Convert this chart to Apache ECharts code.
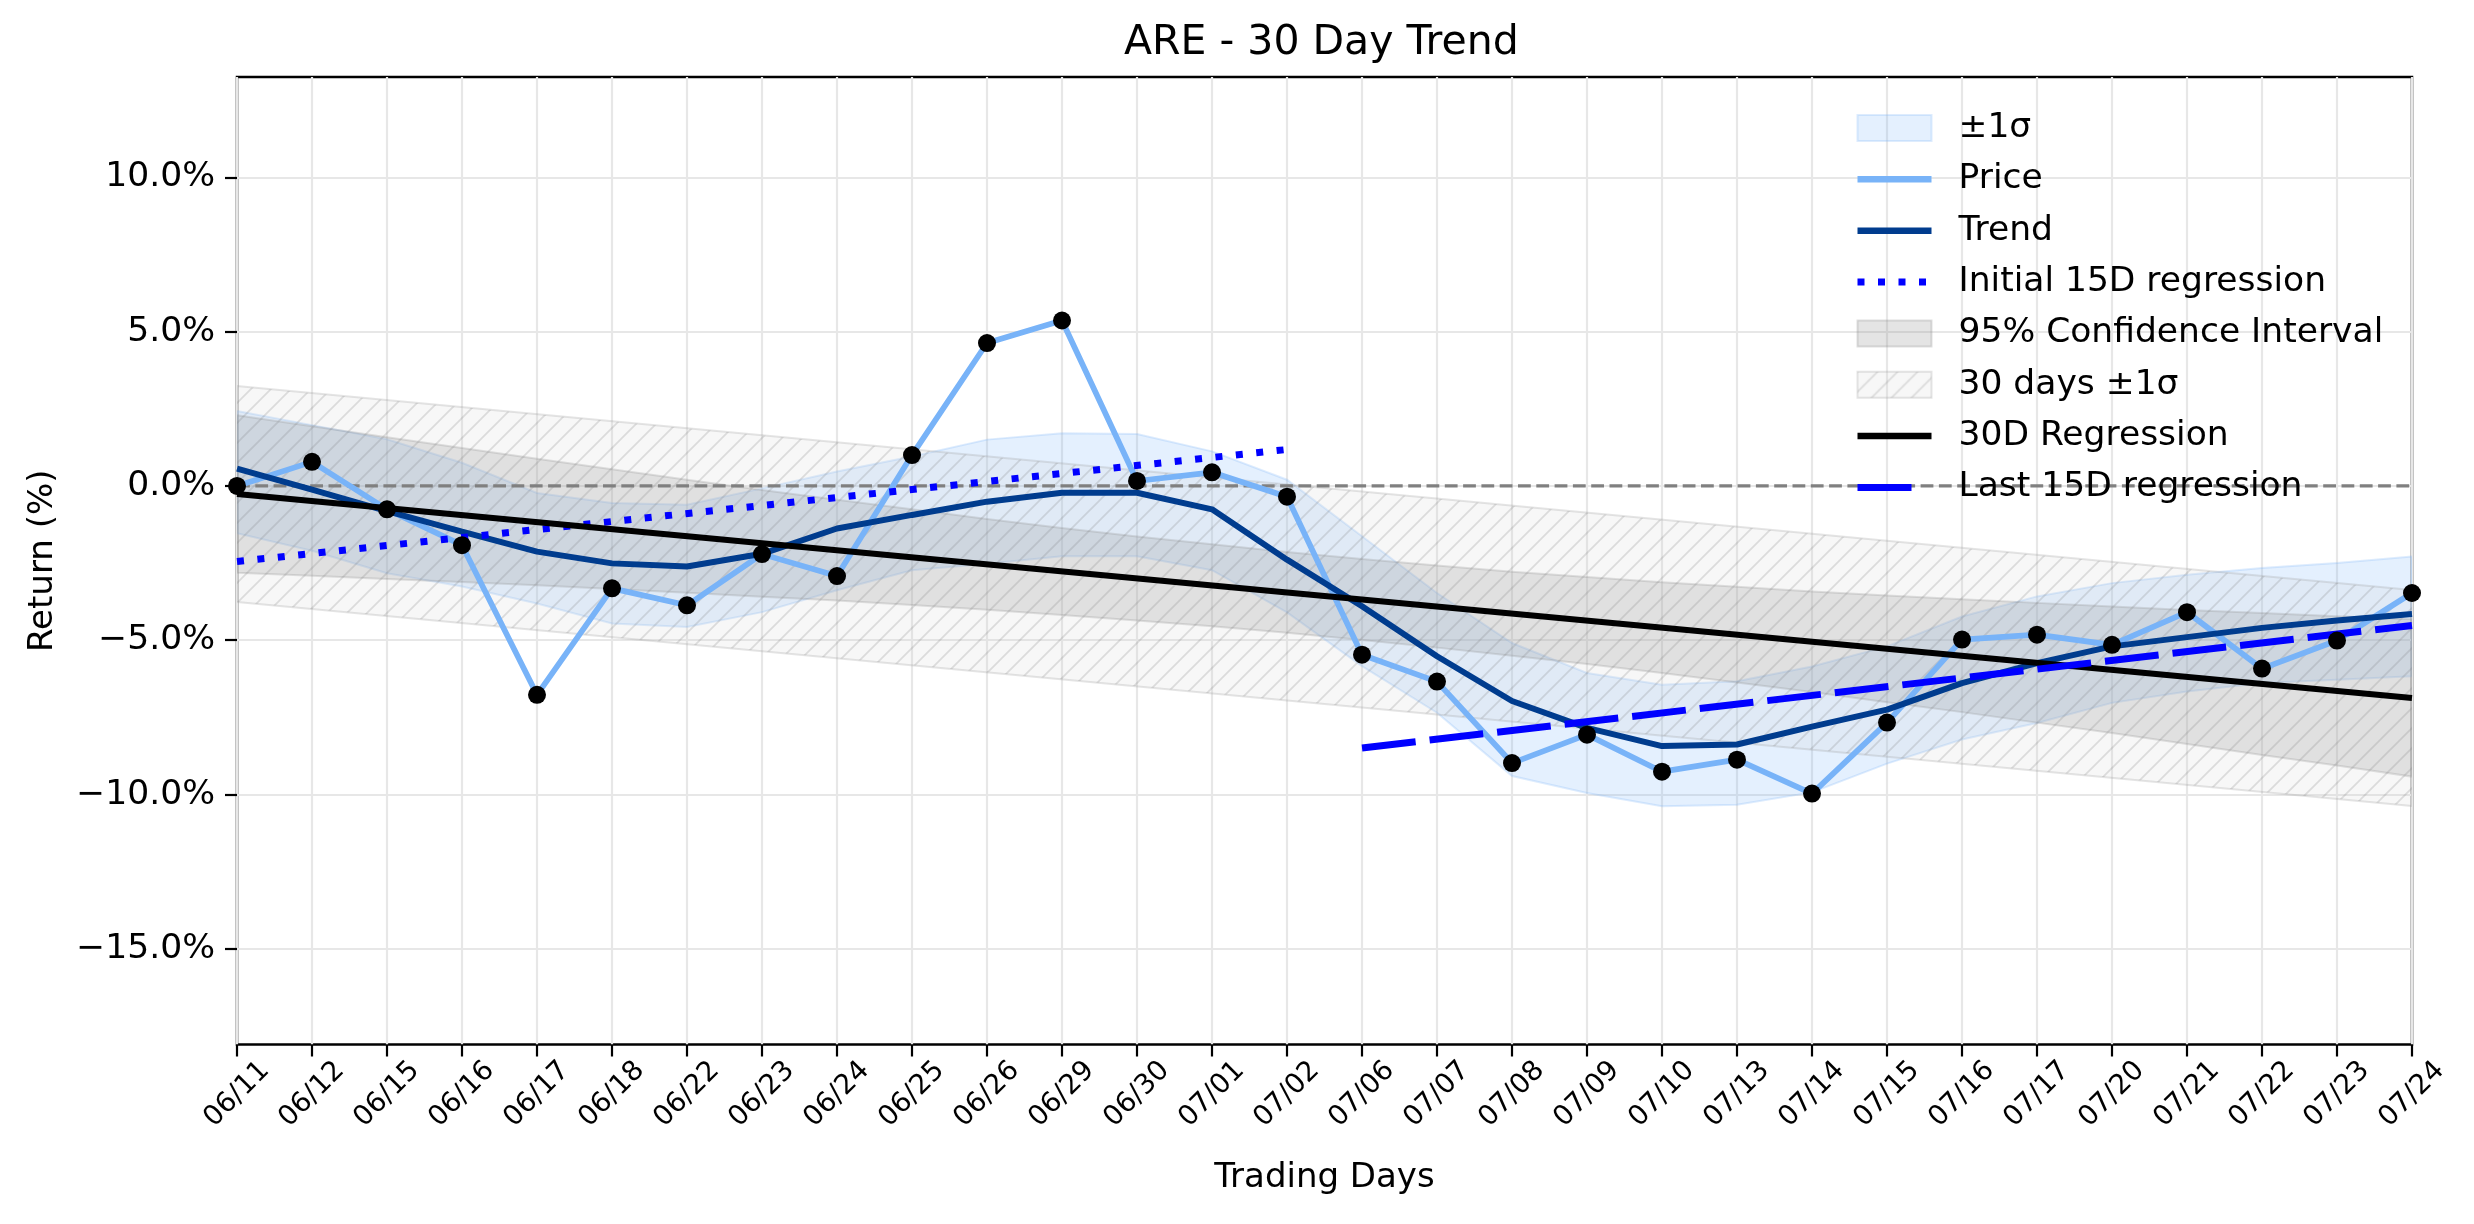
<!DOCTYPE html>
<html>
<head>
<meta charset="utf-8">
<script src="https://cdn.jsdelivr.net/npm/echarts@6/dist/echarts.min.js"></script>
<style>
html,body{margin:0;padding:0;background:#fff;}
#chart{width:2474px;height:1224px;}
</style>
</head>
<body>
<div id="chart"></div>
<script>
// ---------------- data ----------------
const dates = ['06/11','06/12','06/15','06/16','06/17','06/18','06/22','06/23','06/24','06/25',
  '06/26','06/29','06/30','07/01','07/02','07/06','07/07','07/08','07/09','07/10',
  '07/13','07/14','07/15','07/16','07/17','07/20','07/21','07/22','07/23','07/24'];

const price = [0.00, 0.78, -0.76, -1.92, -6.77, -3.32, -3.87, -2.21, -2.92, 1.00,
  4.63, 5.36, 0.16, 0.44, -0.35, -5.47, -6.34, -8.98, -8.06, -9.26,
  -8.87, -9.97, -7.67, -4.98, -4.82, -5.15, -4.09, -5.92, -5.01, -3.47];

const trend = [0.56, -0.12, -0.82, -1.48, -2.13, -2.51, -2.61, -2.20, -1.38, -0.94,
  -0.51, -0.22, -0.22, -0.76, -2.39, -3.90, -5.52, -6.97, -7.84, -8.43,
  -8.38, -7.80, -7.25, -6.39, -5.74, -5.20, -4.90, -4.60, -4.36, -4.15];

const sigmaUpper = [2.43, 1.97, 1.51, 0.75, -0.23, -0.55, -0.61, -0.08, 0.47, 0.95,
  1.50, 1.71, 1.68, 1.12, 0.20, -1.63, -3.47, -5.09, -6.06, -6.44,
  -6.33, -5.85, -5.20, -4.23, -3.58, -3.15, -2.88, -2.66, -2.50, -2.29];
const sigmaLower = [-1.53, -2.10, -2.83, -3.26, -3.81, -4.46, -4.57, -4.09, -3.38, -2.73,
  -2.52, -2.28, -2.28, -2.73, -4.10, -5.84, -7.35, -9.40, -9.95, -10.38,
  -10.33, -9.93, -9.00, -8.22, -7.68, -7.03, -6.66, -6.39, -6.28, -6.17];

const ciUpper = [2.29, 1.93, 1.58, 1.23, 0.88, 0.54, 0.20, -0.13, -0.45, -0.76,
  -1.07, -1.36, -1.64, -1.89, -2.14, -2.37, -2.58, -2.78, -2.95, -3.12,
  -3.27, -3.42, -3.55, -3.67, -3.79, -3.91, -4.02, -4.12, -4.22, -4.32];
const ciLower = [-2.81, -2.91, -3.02, -3.11, -3.22, -3.34, -3.46, -3.59, -3.71, -3.86,
  -4.01, -4.18, -4.36, -4.55, -4.76, -4.99, -5.24, -5.50, -5.77, -6.06,
  -6.37, -6.68, -7.01, -7.33, -7.67, -8.01, -8.36, -8.72, -9.06, -9.42];

const band30X = [0, 29];
const band30Upper = [3.24, -3.37];
const band30Lower = [-3.76, -10.37];

const reg30X = [0, 29];
const reg30Y = [-0.26, -6.87];

const init15X = [0, 14];
const init15Y = [-2.45, 1.18];

const last15X = [15, 29];
const last15Y = [-8.49, -4.52];

const yTicks = [-15, -10, -5, 0, 5, 10];
const yMin = -18.1, yMax = 13.25;

// ---------------- styles ----------------
const FONT = 'DejaVu Sans';
const C_PRICE = '#78b3f8';
const C_TREND = '#003c8e';
const C_BLUE = '#0000ff';

// hatch pattern
function makeHatch() {
  const s = 20;
  const c = document.createElement('canvas');
  c.width = s; c.height = s;
  const g = c.getContext('2d');
  g.fillStyle = 'rgba(205,205,205,0.17)';
  g.fillRect(0, 0, s, s);
  g.strokeStyle = 'rgba(120,120,120,0.22)';
  g.lineWidth = 1.7;
  g.beginPath();
  g.moveTo(-2, s + 2); g.lineTo(s + 2, -2);
  g.moveTo(-2 - s, s + 2); g.lineTo(2, -2);
  g.moveTo(s - 2, s + 2); g.lineTo(2 * s + 2, -2);
  g.stroke();
  return c;
}
const hatchPattern = { image: makeHatch(), repeat: 'repeat' };

const SIGMA_FILL = 'rgba(122,179,249,0.20)';
const SIGMA_EDGE = 'rgba(122,179,249,0.25)';
const CI_FILL = 'rgba(128,128,128,0.21)';
const CI_EDGE = 'rgba(128,128,128,0.25)';
const H_EDGE = 'rgba(150,150,150,0.25)';

function pairs(xs, ys) { return xs.map((x, i) => [x, ys[i]]); }

function bandSeries(name, xs, up, lo, fill, edge) {
  return {
    type: 'custom',
    name: name,
    coordinateSystem: 'cartesian2d',
    silent: true,
    clip: true,
    itemStyle: { color: typeof fill === 'string' ? fill : '#eeeeee' },
    data: [[xs[0], up[0]]],
    renderItem: function (params, api) {
      const pts = [];
      for (let i = 0; i < xs.length; i++) pts.push(api.coord([xs[i], up[i]]));
      for (let i = xs.length - 1; i >= 0; i--) pts.push(api.coord([xs[i], lo[i]]));
      return {
        type: 'polygon',
        shape: { points: pts },
        style: { fill: fill, stroke: edge, lineWidth: 2 }
      };
    }
  };
}

const idx = dates.map((d, i) => i);

const chart = echarts.init(document.getElementById('chart'), null, { renderer: 'canvas' });

function lineLegend(name, color, width, type) {
  return {
    name: name,
    itemStyle: { opacity: 0 },
    lineStyle: { color: color, width: width, type: type || 'solid', opacity: 1 }
  };
}

const option = {
  backgroundColor: '#ffffff',
  animation: false,
  title: {
    text: 'ARE - 30 Day Trend',
    left: 1124, top: 23, padding: 0, textAlign: 'left',
    textStyle: { fontFamily: FONT, fontSize: 41, fontWeight: 'normal', color: '#000' }
  },
  legend: {
    orient: 'vertical',
    left: 1854, top: 110, padding: 0,
    itemWidth: 74, itemHeight: 26, itemGap: 15.35,
    selectedMode: false,
    textStyle: { fontFamily: FONT, fontSize: 34.5, color: '#000', lineHeight: 36, padding: [0, 0, 0, 22] },
    data: [
      { name: '±1σ', icon: 'rect', itemStyle: { color: SIGMA_FILL, borderColor: SIGMA_EDGE, borderWidth: 2, opacity: 1 } },
      lineLegend('Price', C_PRICE, 6.5),
      lineLegend('Trend', C_TREND, 6.5),
      lineLegend('Initial 15D regression', C_BLUE, 7, [7, 13.5]),
      { name: '95% Confidence Interval', icon: 'rect', itemStyle: { color: CI_FILL, borderColor: CI_EDGE, borderWidth: 2, opacity: 1 } },
      { name: '30 days ±1σ', icon: 'rect', itemStyle: { color: hatchPattern, borderColor: H_EDGE, borderWidth: 2, opacity: 1 } },
      lineLegend('30D Regression', '#000', 6.5),
      lineLegend('Last 15D regression', C_BLUE, 7, [54, 30])
    ]
  },
  grid: {
    left: 237, top: 77, right: 62, bottom: 179.5,
    show: true, borderColor: '#000', borderWidth: 2.5, backgroundColor: 'transparent'
  },
  xAxis: {
    type: 'category',
    data: dates,
    boundaryGap: false,
    name: 'Trading Days',
    nameLocation: 'middle',
    nameGap: 117,
    nameTextStyle: { fontFamily: FONT, fontSize: 34, color: '#000' },
    axisLine: { show: false, onZero: false },
    axisTick: { show: true, length: 12, alignWithLabel: true, interval: 0, lineStyle: { color: '#000', width: 2.2 } },
    axisLabel: {
      interval: 0, rotate: 45, margin: 50, align: 'center', verticalAlign: 'middle',
      fontFamily: FONT, fontSize: 27.7, color: '#000'
    },
    splitLine: { show: true, interval: 0, lineStyle: { color: '#e7e7e7', width: 2.2 } }
  },
  yAxis: {
    type: 'value',
    min: yMin, max: yMax,
    splitNumber: 6,
    name: 'Return (%)',
    nameLocation: 'middle',
    nameGap: 177,
    nameTextStyle: { fontFamily: FONT, fontSize: 34, color: '#000' },
    axisLine: { show: false, onZero: false },
    axisTick: { show: true, length: 12, customValues: yTicks, lineStyle: { color: '#000', width: 2.2 } },
    axisLabel: {
      margin: 22, customValues: yTicks,
      fontFamily: FONT, fontSize: 34.6, color: '#000',
      formatter: v => (v < 0 ? '\u2212' : '') + Math.abs(v).toFixed(1) + '%'
    },
    splitLine: { show: true, lineStyle: { color: '#e7e7e7', width: 2.2 } }
  },
  series: [
    bandSeries('±1σ', idx, sigmaUpper, sigmaLower, SIGMA_FILL, SIGMA_EDGE),
    bandSeries('95% Confidence Interval', idx, ciUpper, ciLower, CI_FILL, CI_EDGE),
    bandSeries('30 days ±1σ', band30X, band30Upper, band30Lower, hatchPattern, H_EDGE),
    {
      type: 'line', name: 'zero', data: [[0, 0], [dates.length - 1, 0]],
      symbol: 'none', silent: true,
      lineStyle: { color: '#808080', width: 3.4, type: [12.8, 5.5] }
    },
    {
      type: 'line', name: 'Price', data: pairs(idx, price),
      symbol: 'none',
      lineStyle: { color: C_PRICE, width: 5.7 }, itemStyle: { color: C_PRICE }
    },
    {
      type: 'line', name: 'Trend', data: pairs(idx, trend),
      symbol: 'none',
      lineStyle: { color: C_TREND, width: 6 }, itemStyle: { color: C_TREND }
    },
    {
      type: 'line', name: 'Initial 15D regression', data: pairs(init15X, init15Y),
      symbol: 'none',
      lineStyle: { color: C_BLUE, width: 7, type: [7, 13.5], cap: 'butt' }, itemStyle: { color: C_BLUE }
    },
    {
      type: 'line', name: '30D Regression', data: pairs(reg30X, reg30Y),
      symbol: 'none',
      lineStyle: { color: '#000', width: 6 }, itemStyle: { color: '#000' }
    },
    {
      type: 'line', name: 'Last 15D regression', data: pairs(last15X, last15Y),
      symbol: 'none',
      lineStyle: { color: C_BLUE, width: 7, type: [54, 14] }, itemStyle: { color: C_BLUE }
    },
    {
      type: 'scatter', name: 'points', data: pairs(idx, price),
      symbol: 'circle', symbolSize: 18, silent: true, z: 10,
      itemStyle: { color: '#000000', opacity: 1, borderWidth: 0 },
      emphasis: { disabled: true }
    }
  ]
};
chart.setOption(option);
</script>
</body>
</html>
